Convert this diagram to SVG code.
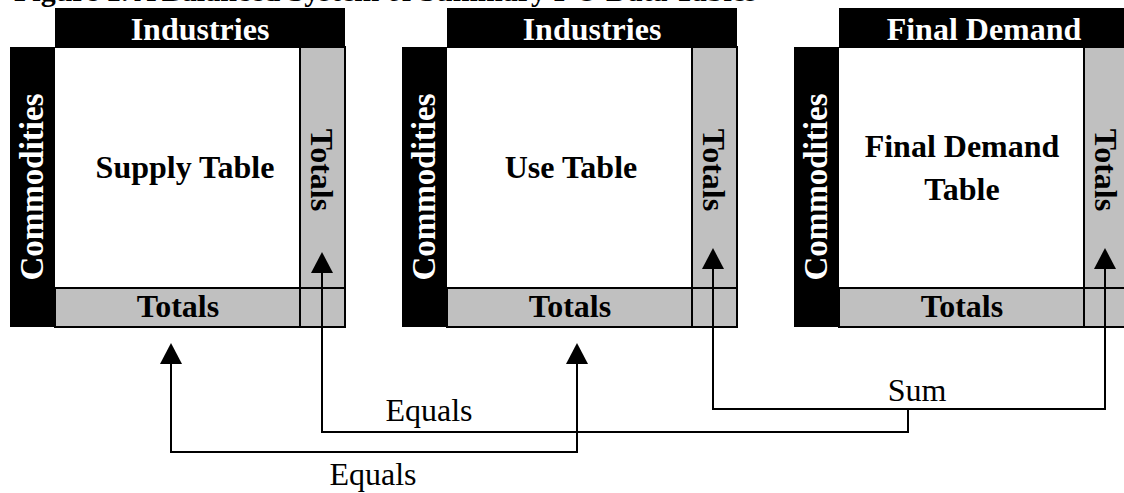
<svg xmlns="http://www.w3.org/2000/svg" width="1124" height="493" viewBox="0 0 1124 493">
  <style>
    .serif { font-family: "Liberation Serif", "Times New Roman", serif; }
    .bold { font-weight: bold; font-size: 32px; text-anchor: middle; }
    .side { font-size: 33px; }
    .white { fill: #fff; }
    .dark { fill: #000; }
    .band { fill: #000; }
    .body { fill: #fff; }
    .tot { fill: #c0c0c0; stroke: #000; stroke-width: 2; }
    .note { font-size: 32px; text-anchor: middle; fill: #000; }
    .conn { fill: none; stroke: #000; stroke-width: 2; }
    .title { font-weight: bold; font-size: 30px; fill: #000; }
  </style>
  <defs>
    <marker id="head" viewBox="0 -11 21 22" refX="0" refY="0" markerWidth="21" markerHeight="22" markerUnits="userSpaceOnUse" orient="auto-start-reverse">
      <path d="M0,-11 L21,0 L0,11 Z" fill="#000"/>
    </marker>
  </defs>
  <rect width="1124" height="493" fill="#fff"/>

  <!-- heading, mostly above the top edge -->
  <text class="serif title" x="14" y="1">Figure 1. A Balanced System of Summary I-O Data Tables</text>

  <!-- Supply table -->
  <g id="supply-table" transform="translate(10,0)">
    <rect class="band" x="0" y="47" width="45" height="280"/>
    <rect class="band" x="45" y="8" width="290" height="40"/>
    <rect class="body" x="45" y="48" width="245" height="240"/>
    <rect class="tot" x="290" y="47" width="45" height="241"/>
    <rect class="tot" x="45" y="288" width="245" height="39"/>
    <rect class="tot" x="290" y="288" width="45" height="39"/>
    <text class="serif bold white" x="190" y="40">Industries</text>
    <text class="serif bold side white" transform="translate(33,187) rotate(-90)">Commodities</text>
    <text class="serif bold dark" transform="translate(301,170) rotate(90)">Totals</text>
    <text class="serif bold dark" x="168" y="317">Totals</text>
    <text class="serif bold dark" x="175" y="178">Supply Table</text>
  </g>

  <!-- Use table -->
  <g id="use-table" transform="translate(402,0)">
    <rect class="band" x="0" y="47" width="45" height="280"/>
    <rect class="band" x="45" y="8" width="290" height="40"/>
    <rect class="body" x="45" y="48" width="245" height="240"/>
    <rect class="tot" x="290" y="47" width="45" height="241"/>
    <rect class="tot" x="45" y="288" width="245" height="39"/>
    <rect class="tot" x="290" y="288" width="45" height="39"/>
    <text class="serif bold white" x="190" y="40">Industries</text>
    <text class="serif bold side white" transform="translate(33,187) rotate(-90)">Commodities</text>
    <text class="serif bold dark" transform="translate(301,170) rotate(90)">Totals</text>
    <text class="serif bold dark" x="168" y="317">Totals</text>
    <text class="serif bold dark" x="169" y="178">Use Table</text>
  </g>

  <!-- Final demand table -->
  <g id="final-demand-table" transform="translate(794,0)">
    <rect class="band" x="0" y="47" width="45" height="280"/>
    <rect class="band" x="45" y="8" width="290" height="40"/>
    <rect class="body" x="45" y="48" width="245" height="240"/>
    <rect class="tot" x="290" y="47" width="45" height="241"/>
    <rect class="tot" x="45" y="288" width="245" height="39"/>
    <rect class="tot" x="290" y="288" width="45" height="39"/>
    <text class="serif bold white" x="190" y="40">Final Demand</text>
    <text class="serif bold side white" transform="translate(33,187) rotate(-90)">Commodities</text>
    <text class="serif bold dark" transform="translate(301,170) rotate(90)">Totals</text>
    <text class="serif bold dark" x="168" y="317">Totals</text>
    <text class="serif bold dark" x="168" y="157">Final Demand</text>
    <text class="serif bold dark" x="168" y="200">Table</text>
  </g>

  <!-- connectors -->
  <g id="connectors">
    <!-- use totals + final demand totals -->
    <path class="conn" d="M713,269 V409 H1105 V269" marker-start="url(#head)" marker-end="url(#head)"/>
    <!-- sum equals supply totals -->
    <path class="conn" d="M908,409 V432 H322 V273" marker-end="url(#head)"/>
    <!-- supply row totals equal use row totals -->
    <path class="conn" d="M171,364 V452 H577 V364" marker-start="url(#head)" marker-end="url(#head)"/>
    <text class="serif note" x="917" y="401">Sum</text>
    <text class="serif note" x="429" y="421">Equals</text>
    <text class="serif note" x="373" y="485">Equals</text>
  </g>
</svg>
